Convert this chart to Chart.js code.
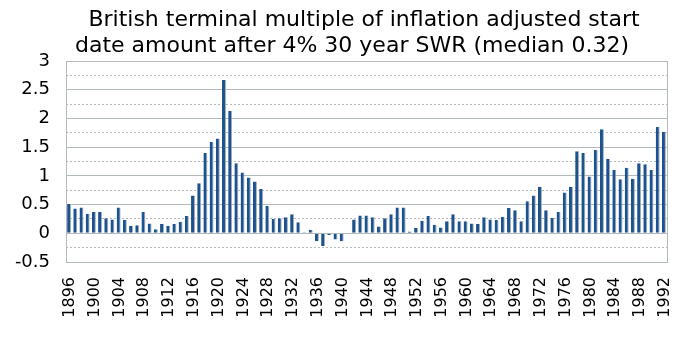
<!DOCTYPE html>
<html>
<head>
<meta charset="utf-8">
<script src="https://cdn.jsdelivr.net/npm/chart.js@4"></script>
<style>
  html, body { margin: 0; padding: 0; background: #fff; }
  #wrap { position: relative; width: 686px; height: 337px; overflow: hidden; }
  .tl { position: absolute; white-space: nowrap; font-family: "DejaVu Sans", sans-serif;
        font-size: 22px; line-height: 22px; color: #000; transform: translateX(-50%); }
  .xl { position: absolute; left: 0; top: 0; white-space: nowrap; font-family: "DejaVu Sans", sans-serif;
        font-size: 16px; line-height: 16px; color: #000; transform-origin: 0 0; }
  canvas { position: absolute; left: 0; top: 0; }
</style>
</head>
<body>
<div id="wrap">
  <canvas id="c" width="686" height="337"></canvas>
  <div class="tl" style="left:364px; top:8px;">British terminal multiple of inflation adjusted start</div>
  <div class="tl" style="left:352px; top:34px;">date amount after 4% 30 year SWR (median 0.32)</div>
</div>
<script>
const firstYear = 1896;
const lastYear = 1992;
const years = [];
for (let y = firstYear; y <= lastYear; y++) years.push(String(y));

const multiples = [
  0.51, 0.43, 0.45, 0.34, 0.37, 0.37, 0.26, 0.24, 0.45, 0.23,   // 1896-1905
  0.13, 0.14, 0.37, 0.17, 0.07, 0.16, 0.13, 0.16, 0.20, 0.30,   // 1906-1915
  0.66, 0.87, 1.40, 1.59, 1.65, 2.67, 2.13, 1.22, 1.06, 0.97,   // 1916-1925
  0.90, 0.77, 0.48, 0.25, 0.26, 0.28, 0.33, 0.19, 0.02, 0.06,   // 1926-1935
  -0.14, -0.22, -0.03, -0.11, -0.14, -0.01, 0.24, 0.31, 0.31, 0.28, // 1936-1945
  0.12, 0.26, 0.33, 0.45, 0.45, 0.03, 0.09, 0.22, 0.30, 0.15,   // 1946-1955
  0.10, 0.21, 0.33, 0.21, 0.21, 0.17, 0.16, 0.28, 0.24, 0.23,   // 1956-1965
  0.29, 0.44, 0.40, 0.21, 0.56, 0.66, 0.81, 0.40, 0.27, 0.37,   // 1966-1975
  0.71, 0.81, 1.43, 1.40, 0.99, 1.45, 1.81, 1.30, 1.10, 0.94,   // 1976-1985
  1.14, 0.95, 1.22, 1.20, 1.10, 1.85, 1.77                      // 1986-1992
];

const yMin = -0.5, yMax = 3, yMajorStep = 0.5, yMinorStep = 0.25;
const labelEvery = 4;

const gridColor = '#b3babe';

const chart = new Chart(document.getElementById('c'), {
  type: 'bar',
  data: {
    labels: years,
    datasets: [{
      data: multiples,
      backgroundColor: '#1b5391',
      borderColor: '#a9afb4',
      borderWidth: { top: 0, right: 1, bottom: 0, left: 0 },
      borderSkipped: false,
      categoryPercentage: 1,
      barPercentage: 0.64
    }]
  },
  options: {
    responsive: false,
    animation: false,
    devicePixelRatio: 1,
    layout: { padding: { top: 61, right: 19, left: 0, bottom: 0 } },
    plugins: { legend: { display: false }, title: { display: false }, tooltip: { enabled: false } },
    scales: {
      x: {
        grid: { display: false, drawTicks: false },
        border: { display: false },
        ticks: { display: false, autoSkip: false },
        afterFit(scale) { scale.height = 75; }
      },
      y: {
        min: yMin, max: yMax,
        position: 'left',
        ticks: {
          stepSize: yMajorStep,
          padding: 16,
          color: '#000',
          font: { family: 'DejaVu Sans', size: 18 },
          callback: (v) => String(Math.round(v * 100) / 100)
        },
        grid: { color: gridColor, lineWidth: 1, drawTicks: false },
        border: { display: true, color: gridColor, width: 1 },
        afterFit(scale) { scale.width = 66; }
      },
      y2: {
        min: yMin, max: yMax,
        position: 'right',
        ticks: { display: false, stepSize: yMinorStep },
        grid: {
          drawTicks: false,
          lineWidth: 1,
          color: (ctx) => {
            const v = ctx.tick ? ctx.tick.value : 0;
            return Math.abs(v / yMajorStep - Math.round(v / yMajorStep)) < 1e-6 ? 'rgba(0,0,0,0)' : gridColor;
          }
        },
        border: { display: true, color: gridColor, width: 1, dash: [2, 2] },
        afterFit(scale) { scale.width = 0; }
      }
    }
  },
  plugins: []
});

// x-axis year labels, rotated, placed with the library's own x scale
const wrap = document.getElementById('wrap');
const xs = chart.scales.x;
const labelTop = xs.top + 15;
years.forEach((yr, i) => {
  if (i % labelEvery !== 0) return;
  const px = xs.getPixelForValue(i);
  const d = document.createElement('div');
  d.className = 'xl';
  d.textContent = yr;
  d.style.transform = 'translate(' + px + 'px,' + labelTop + 'px) rotate(-90deg) translate(-100%,-50%)';
  wrap.appendChild(d);
});
</script>
</body>
</html>
